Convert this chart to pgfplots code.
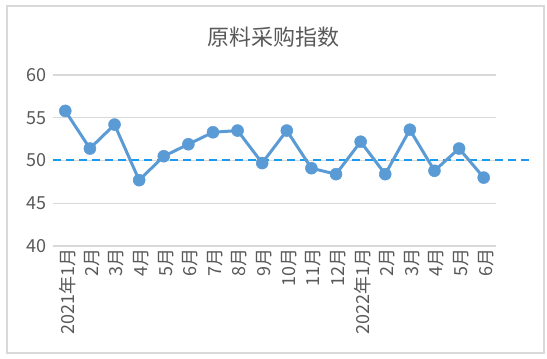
\documentclass[border=0pt]{standalone}
\usepackage{pgfplots}
\pgfplotsset{compat=1.18}
\usepackage{fontspec}
\setmainfont{Noto Sans CJK SC}
\definecolor{txt}{HTML}{595959}
\definecolor{gridc}{HTML}{D9D9D9}
\definecolor{ser}{HTML}{5B9BD5}
\definecolor{dashc}{HTML}{1A9BF0}
\begin{document}
\begin{tikzpicture}[x=1pt,y=1pt]
\path (0,0) rectangle (547,359);
\draw[color=gridc, line width=1.5pt] (7,6) rectangle (544,353);
\node[font=\fontsize{22}{26}\selectfont, text=txt] at (273.5,322) {原料采购指数};
\begin{axis}[at={(53pt,113pt)}, anchor=south west, scale only axis,
  width=443pt, height=171pt,
  xmin=-0.5, xmax=17.5, ymin=40, ymax=60,
  ytick={40,45,50,55,60},
  xtick={0,...,17},
  xticklabels={2021年1月,2月,3月,4月,5月,6月,7月,8月,9月,10月,11月,12月,2022年1月,2月,3月,4月,5月,6月},
  ymajorgrids, grid style={color=gridc, line width=1.2pt},
  axis line style={draw=none}, major tick style={draw=none},
  xticklabel style={rotate=90, anchor=east, font=\fontsize{18}{20}\selectfont, text=txt, inner sep=2pt, yshift=-2pt},
  yticklabel style={font=\fontsize{18}{20}\selectfont, text=txt, xshift=-3pt},
  /pgf/number format/assume math mode=true,
  clip=false]
\addplot[color=dashc, line width=2pt, dash pattern=on 8pt off 5pt] coordinates {(-0.5,50) (18.9,50)};
\addplot[color=ser, line width=3pt, mark=*, mark size=6pt, mark options={solid, fill=ser, draw=ser, line width=0.5pt}] coordinates {
(0,55.8) (1,51.4) (2,54.2) (3,47.7) (4,50.5) (5,51.9) (6,53.3) (7,53.5) (8,49.7)
(9,53.5) (10,49.1) (11,48.4) (12,52.2) (13,48.4) (14,53.6) (15,48.8) (16,51.4) (17,48.0)};
\end{axis}
\end{tikzpicture}
\end{document}
